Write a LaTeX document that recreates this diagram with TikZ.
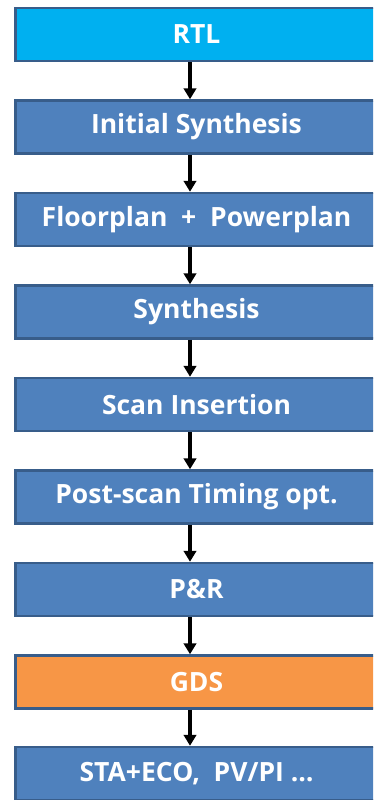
\documentclass[tikz,border=0pt]{standalone}
\usepackage{fontspec}
\setmainfont{Open Sans}[BoldFont={Open Sans Bold}]
\usetikzlibrary{arrows.meta}
\definecolor{rtlcyan}{HTML}{00B0F0}
\definecolor{stepblue}{HTML}{4F81BD}
\definecolor{gdsorange}{HTML}{F79646}
\definecolor{edgeblue}{HTML}{385D8A}
\tikzset{
  flowbox/.style={draw=edgeblue, line width=2.5pt, fill=stepblue,
    minimum width=362pt, minimum height=53pt, inner sep=0pt,
    text=white, font=\bfseries\fontsize{26.5}{30}\selectfont},
  flowarrow/.style={line width=3.6pt, -{Triangle[length=11pt,width=12.5pt]}}
}
\begin{document}
\begin{tikzpicture}[x=1pt,y=1pt]
  \useasboundingbox (0,0) rectangle (373,-800);
  \begin{scope}
    \clip (0,0) rectangle (373,-800);
    \node[flowbox, fill=rtlcyan] (rtl)  at (196.5,-34.5) {RTL};
    \node[flowbox] (init)  at (196.5,-127)  {Initial Synthesis};
    \node[flowbox] (floor) at (196.5,-219.5) {Floorplan\ \ +\ \ Powerplan};
    \node[flowbox] (syn)   at (196.5,-312)  {Synthesis};
    \node[flowbox] (scan)  at (196.5,-404.5) {Scan Insertion};
    \node[flowbox] (post)  at (196.5,-497)  {Post-scan Timing opt.};
    \node[flowbox] (pnr)   at (196.5,-589.5) {P\&R};
    \node[flowbox, fill=gdsorange] (gds) at (196.5,-682) {GDS};
    \node[flowbox] (sta)   at (196.5,-773.5) {STA+ECO,\ \ PV/PI \ldots};
  \end{scope}
  \foreach \a/\b in {rtl/init, init/floor, floor/syn, syn/scan, scan/post,
                     post/pnr, pnr/gds, gds/sta}
    \draw[flowarrow] ([xshift=-6.5pt]\a.south) -- ([xshift=-6.5pt]\b.north);
\end{tikzpicture}
\end{document}
